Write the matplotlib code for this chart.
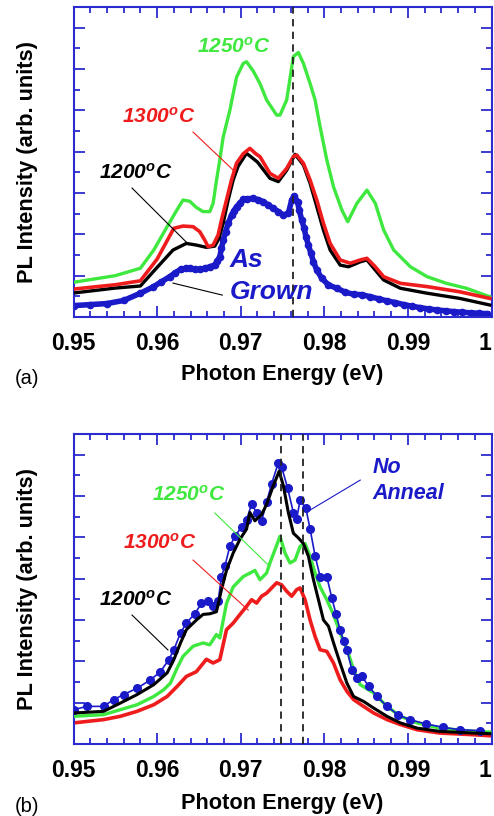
import matplotlib
matplotlib.use("Agg")
import matplotlib.pyplot as plt
from matplotlib.ticker import MultipleLocator

plt.rcParams['font.family'] = ['Liberation Sans', 'DejaVu Sans']
plt.rcParams['mathtext.fontset'] = 'custom'
plt.rcParams['mathtext.rm'] = 'Liberation Sans:bold:italic'
plt.rcParams['mathtext.it'] = 'Liberation Sans:bold:italic'
plt.rcParams['mathtext.bf'] = 'Liberation Sans:bold:italic'

GREEN = '#3ee83e'
RED = '#ee1c1c'
BLACK = '#000000'
BLUE = '#1a1ac8'
AXBLUE = '#2b2bd0'

# ---------------- Panel (a) data ----------------
xa_green = [0.950, 0.955, 0.958, 0.9596, 0.9612, 0.9624, 0.9631, 0.9639, 0.9647, 0.9655,
            0.9663, 0.9667, 0.9671, 0.9675, 0.9679, 0.9687, 0.9695, 0.9703, 0.9707, 0.9715,
            0.9723, 0.9731, 0.9743, 0.9747, 0.9755, 0.9763, 0.9769, 0.9775, 0.9783, 0.9789,
            0.9795, 0.9803, 0.9811, 0.9821, 0.9828, 0.9839, 0.9851, 0.9861, 0.9871, 0.9883,
            0.9903, 0.9923, 0.9946, 0.9970, 0.9998]
ya_green = [1.68, 2.0, 2.36, 3.24, 4.37, 5.2, 5.66, 5.6, 5.3, 5.1,
            5.1, 5.5, 6.6, 7.6, 8.7, 10.0, 11.6, 12.27, 12.35, 11.9,
            11.3, 10.5, 9.77, 9.77, 10.5, 12.6, 12.8, 12.27, 11.3, 10.5,
            9.2, 7.6, 6.3, 5.18, 4.61, 5.5, 6.14, 5.5, 4.21, 3.24,
            2.43, 1.95, 1.63, 1.39, 0.98]

xa_red = [0.950, 0.955, 0.958, 0.960, 0.962, 0.9631, 0.9643, 0.9651, 0.9657, 0.9661,
          0.9667, 0.9673, 0.9677, 0.9683, 0.9689, 0.9695, 0.9703, 0.9711, 0.9718, 0.9723,
          0.9735, 0.9745, 0.9755, 0.9763, 0.9767, 0.9775, 0.9783, 0.9791, 0.9799, 0.9807,
          0.9819, 0.9831, 0.9843, 0.9851, 0.9861, 0.9871, 0.9891, 0.9923, 0.9962, 0.9998]
ya_red = [1.35, 1.56, 1.75, 2.8, 4.29, 4.4, 4.37, 4.13, 3.72, 3.4,
          3.48, 3.97, 4.69, 5.66, 6.63, 7.44, 7.9, 8.16, 7.9, 7.76,
          6.95, 6.71, 7.19, 7.76, 7.84, 7.44, 6.63, 5.66, 4.53, 3.56,
          2.76, 2.6, 2.76, 2.84, 2.43, 1.95, 1.63, 1.47, 1.22, 0.9]

xa_black = [0.950, 0.955, 0.958, 0.960, 0.9619, 0.9635, 0.9647, 0.9659, 0.9669, 0.9674,
            0.9679, 0.9685, 0.9691, 0.9697, 0.9707, 0.9720, 0.9735, 0.9745, 0.9755, 0.9765,
            0.9775, 0.9783, 0.9791, 0.9799, 0.9807, 0.9819, 0.9829, 0.9843, 0.9851, 0.9861,
            0.9871, 0.9891, 0.9923, 0.9962, 0.9998]
ya_black = [1.16, 1.4, 1.5, 2.4, 3.24, 3.56, 3.48, 3.37, 3.43, 3.8,
            4.53, 5.66, 6.63, 7.3, 7.92, 7.5, 6.71, 6.55, 7.1, 7.87,
            7.36, 6.47, 5.34, 4.2, 3.24, 2.51, 2.43, 2.67, 2.76, 2.27,
            1.79, 1.39, 1.15, 0.9, 0.58]

xa_blue = [0.950, 0.952, 0.954, 0.956, 0.958, 0.9595, 0.9605, 0.9615, 0.9622, 0.9628,
           0.9634, 0.9639, 0.9645, 0.9651, 0.9657, 0.9663, 0.9669, 0.9672, 0.9675, 0.9677,
           0.9679, 0.9682, 0.9685, 0.9689, 0.9692, 0.9695, 0.9699, 0.9703, 0.9708, 0.9715,
           0.9721, 0.9727, 0.9733, 0.9739, 0.9745, 0.9751, 0.9757, 0.9761, 0.9764, 0.9768,
           0.9770, 0.9773, 0.9776, 0.9778, 0.9781, 0.9784, 0.9787, 0.9791, 0.9797, 0.9805,
           0.9815, 0.9825, 0.9835, 0.9845, 0.9855, 0.9865, 0.9875, 0.9885, 0.9895, 0.9905,
           0.9915, 0.9925, 0.9935, 0.9945, 0.9955, 0.9965, 0.9975, 0.9985, 0.9995]
ya_blue = [0.55, 0.6, 0.65, 0.8, 1.15, 1.45, 1.7, 1.95, 2.15, 2.3,
           2.35, 2.36, 2.3, 2.3, 2.35, 2.43, 2.52, 2.7, 2.92, 3.32,
           3.72, 4.13, 4.53, 4.93, 5.15, 5.34, 5.5, 5.69, 5.72, 5.74,
           5.68, 5.58, 5.42, 5.26, 5.1, 4.93, 5.02, 5.66, 5.85, 5.58,
           5.18, 4.69, 4.29, 3.88, 3.48, 3.08, 2.68, 2.27, 1.87, 1.55,
           1.39, 1.2, 1.1, 1.08, 0.98, 0.88, 0.78, 0.7, 0.6, 0.52,
           0.45, 0.39, 0.34, 0.3, 0.26, 0.23, 0.2, 0.18, 0.16]

# ---------------- Panel (b) data ----------------
xb_blue = [0.950, 0.9516, 0.9536, 0.9548, 0.956, 0.9576, 0.9592, 0.9604, 0.9614, 0.962,
           0.9628, 0.9635, 0.9645, 0.9653, 0.9661, 0.9667, 0.9673, 0.9677, 0.9681, 0.9687,
           0.9693, 0.9701, 0.9707, 0.9713, 0.9719, 0.9725, 0.9731, 0.9737, 0.9745, 0.9749,
           0.9756, 0.9763, 0.9767, 0.9771, 0.9778, 0.9783, 0.9789, 0.9795, 0.9803, 0.9809,
           0.9814, 0.9819, 0.9823, 0.9827, 0.9833, 0.9839, 0.9845, 0.9853, 0.9863, 0.9875,
           0.9888, 0.9902, 0.9922, 0.9942, 0.9962, 0.9986]
yb_blue = [1.66, 1.82, 1.82, 2.15, 2.39, 2.7, 3.1, 3.5, 4.08, 4.56,
           5.37, 5.85, 6.3, 6.8, 6.9, 6.7, 6.9, 8.1, 8.6, 9.56,
           10.05, 10.5, 10.85, 11.6, 11.2, 10.8, 11.7, 12.6, 13.6, 13.4,
           12.4, 11.2, 10.9, 11.8, 11.4, 10.4, 9.1, 8.1, 8.1, 7.06,
           6.3, 5.5, 5.0, 4.56, 3.6, 3.2, 3.27, 2.8, 2.3, 1.82,
           1.42, 1.18, 0.97, 0.81, 0.69, 0.65]

xb_black = [0.950, 0.9536, 0.9556, 0.9576, 0.9596, 0.9612, 0.962, 0.9628, 0.9635, 0.9647,
            0.9655, 0.9663, 0.9671, 0.9677, 0.9683, 0.9691, 0.9699, 0.9707, 0.9711, 0.9717,
            0.9725, 0.9731, 0.9739, 0.9746, 0.9751, 0.9757, 0.9763, 0.9769, 0.9775, 0.9781,
            0.9787, 0.9793, 0.9799, 0.9805, 0.9811, 0.9819, 0.9827, 0.9835, 0.9847, 0.9859,
            0.9875, 0.9891, 0.9911, 0.9938, 0.9978, 0.9998]
yb_black = [1.5, 1.58, 1.98, 2.39, 2.87, 3.44, 4.08, 4.89, 5.53, 6.0,
            6.27, 6.3, 6.4, 7.47, 8.4, 9.24, 9.9, 10.4, 11.2, 10.8,
            11.1, 11.6, 12.5, 13.2, 12.5, 11.2, 10.2, 9.97, 9.7, 9.08,
            7.95, 6.98, 6.0, 5.7, 4.9, 3.9, 2.95, 2.3, 2.06, 1.74,
            1.34, 1.02, 0.77, 0.61, 0.53, 0.5]

xb_green = [0.950, 0.9536, 0.9556, 0.9576, 0.9596, 0.9608, 0.9616, 0.9624, 0.9631, 0.9643,
            0.9655, 0.9663, 0.9671, 0.9675, 0.9683, 0.9691, 0.9703, 0.9711, 0.9717, 0.9723,
            0.9731, 0.9735, 0.9741, 0.9747, 0.9753, 0.9759, 0.9765, 0.9771, 0.9777, 0.9783,
            0.9789, 0.9795, 0.9803, 0.9811, 0.9819, 0.9827, 0.9835, 0.9843, 0.9859, 0.9875,
            0.9891, 0.9911, 0.9938, 0.9978, 0.9998]
yb_green = [1.34, 1.42, 1.66, 1.9, 2.3, 2.63, 2.95, 3.68, 4.24, 4.73,
            4.89, 4.8, 5.3, 5.13, 6.8, 7.6, 8.1, 8.27, 8.4, 7.95,
            8.27, 8.76, 9.4, 10.05, 9.24, 8.76, 8.9, 9.56, 9.7, 9.08,
            8.27, 7.6, 6.98, 6.26, 5.37, 4.6, 3.6, 2.87, 2.47, 1.82,
            1.34, 1.02, 0.77, 0.61, 0.58]

xb_red = [0.950, 0.9536, 0.9556, 0.9576, 0.9596, 0.9612, 0.9624, 0.9635, 0.9647, 0.9659,
          0.9667, 0.9675, 0.9683, 0.9691, 0.9699, 0.9707, 0.9713, 0.9719, 0.9725, 0.9731,
          0.9737, 0.9743, 0.9749, 0.9755, 0.9761, 0.9767, 0.9771, 0.9777, 0.9783, 0.9789,
          0.9795, 0.9803, 0.9811, 0.9819, 0.9827, 0.9835, 0.9847, 0.9859, 0.9875, 0.9891,
          0.9911, 0.9938, 0.9978, 0.9998]
yb_red = [1.02, 1.18, 1.34, 1.58, 1.9, 2.3, 2.79, 3.27, 3.5, 4.1,
          3.92, 4.08, 5.53, 5.85, 6.26, 6.66, 6.98, 6.82, 7.15, 7.3,
          7.55, 7.8, 7.7, 7.39, 7.15, 7.47, 7.55, 6.98, 6.0, 5.2,
          4.56, 4.48, 3.92, 3.1, 2.55, 2.15, 1.82, 1.5, 1.18, 0.94,
          0.69, 0.53, 0.45, 0.4]

xticks = [0.95, 0.96, 0.97, 0.98, 0.99, 1.0]
xtick_labels = ['0.95', '0.96', '0.97', '0.98', '0.99', '1']
dash_a = [0.9762]
dash_b = [0.9748, 0.9775]

W, H = 494, 816
fig = plt.figure(figsize=(W / 100, H / 100), dpi=100)

def axes_at(left, top, right, bottom):
    return fig.add_axes([left / W, 1 - bottom / H, (right - left) / W, (bottom - top) / H])

ax_a = axes_at(73.5, 7, 491.5, 317)
ax_b = axes_at(73.5, 434, 491.5, 744)

for ax in (ax_a, ax_b):
    ax.set_xlim(0.95, 1.0)
    ax.set_ylim(0, 15)
    ax.set_xticks(xticks)
    ax.set_xticklabels(xtick_labels)
    ax.xaxis.set_minor_locator(MultipleLocator(0.002))
    ax.yaxis.set_major_locator(MultipleLocator(2))
    ax.yaxis.set_minor_locator(MultipleLocator(1))
    ax.tick_params(which='both', direction='in', top=True, right=True, color=AXBLUE,
                   width=1.3)
    ax.tick_params(which='major', length=8)
    ax.tick_params(which='minor', length=4.5)
    ax.tick_params(axis='x', which='major', labelsize=16.5, pad=11)
    ax.tick_params(axis='y', which='both', labelleft=False)
    labs = ax.get_xticklabels()
    for lab in labs:
        lab.set_fontweight('bold')
    labs[-1].set_horizontalalignment('right')
    for s in ax.spines.values():
        s.set_color(AXBLUE)
        s.set_linewidth(1.5)

lab_font = dict(fontsize=15.7, fontweight='bold')
tfont = dict(fontsize=15, fontweight='bold', fontstyle='italic')

# ---- panel a ----
ax = ax_a
for xv in dash_a:
    ax.axvline(xv, color='#222222', lw=1.3, ls=(0, (4, 3)), zorder=5)
ax.plot(xa_blue, ya_blue, color=BLUE, lw=4, marker='o', ms=4.5, zorder=2)
ax.plot(xa_green, ya_green, color=GREEN, lw=2.4, zorder=3)
ax.plot(xa_black, ya_black, color=BLACK, lw=2.4, zorder=3)
ax.plot(xa_red, ya_red, color=RED, lw=2.6, zorder=4)

ax.text(0.9648, 13.1, '1250$^{\\mathrm{o}}$C', color=GREEN, va='center', ha='left', **tfont)
ax.text(0.9558, 9.68, '1300$^{\\mathrm{o}}$C', color=RED, va='center', ha='left', **tfont)
ax.text(0.9531, 6.97, '1200$^{\\mathrm{o}}$C', color=BLACK, va='center', ha='left', **tfont)
ax.text(0.9687, 2.76, 'As', color=BLUE, va='center', ha='left', fontsize=19,
        fontweight='bold', fontstyle='italic')
ax.text(0.9687, 1.21, 'Grown', color=BLUE, va='center', ha='left', fontsize=19,
        fontweight='bold', fontstyle='italic')
ax.plot([0.9643, 0.9691], [8.95, 7.11], color=RED, lw=0.8, zorder=6)
ax.plot([0.9570, 0.9636], [6.24, 3.58], color=BLACK, lw=0.8, zorder=6)
ax.plot([0.9619, 0.9678], [1.64, 1.06], color=BLACK, lw=0.8, zorder=6)

# ---- panel b ----
ax = ax_b
for xv in dash_b:
    ax.axvline(xv, color='#222222', lw=1.3, ls=(0, (4, 3)), zorder=5)
ax.plot(xb_red, yb_red, color=RED, lw=2.6, zorder=2)
ax.plot(xb_green, yb_green, color=GREEN, lw=2.4, zorder=3)
ax.plot(xb_blue, yb_blue, color=BLUE, lw=1.2, marker='o', ms=5.5, zorder=3)
ax.plot(xb_black, yb_black, color=BLACK, lw=2.2, zorder=4)

ax.text(0.9858, 13.4, 'No', color=BLUE, va='center', ha='left', fontsize=15.5,
        fontweight='bold', fontstyle='italic')
ax.text(0.9858, 12.14, 'Anneal', color=BLUE, va='center', ha='left', fontsize=15.5,
        fontweight='bold', fontstyle='italic')
ax.text(0.9594, 12.05, '1250$^{\\mathrm{o}}$C', color=GREEN, va='center', ha='left', **tfont)
ax.text(0.9559, 9.72, '1300$^{\\mathrm{o}}$C', color=RED, va='center', ha='left', **tfont)
ax.text(0.9531, 6.97, '1200$^{\\mathrm{o}}$C', color=BLACK, va='center', ha='left', **tfont)
ax.plot([0.9843, 0.9783], [12.77, 11.32], color=BLUE, lw=0.8, zorder=6)
ax.plot([0.9669, 0.9733], [11.18, 8.66], color=GREEN, lw=0.8, zorder=6)
ax.plot([0.9643, 0.9709], [8.9, 6.48], color=RED, lw=0.8, zorder=6)
ax.plot([0.9570, 0.9613], [6.24, 4.55], color=BLACK, lw=0.8, zorder=6)

# ---- labels ----
def ftext(x, y, s, **kw):
    fig.text(x / W, 1 - y / H, s, **kw)

ftext(27, 162, 'PL Intensity (arb. units)', rotation=90, ha='center', va='center', **lab_font)
ftext(27, 589, 'PL Intensity (arb. units)', rotation=90, ha='center', va='center', **lab_font)
ftext(282, 375, 'Photon Energy (eV)', ha='center', va='center', **lab_font)
ftext(282, 803, 'Photon Energy (eV)', ha='center', va='center', **lab_font)
ftext(15, 378, '(a)', ha='left', va='center', fontsize=14.5)
ftext(15, 806, '(b)', ha='left', va='center', fontsize=14.5)

fig.savefig('out.png', dpi=100)
